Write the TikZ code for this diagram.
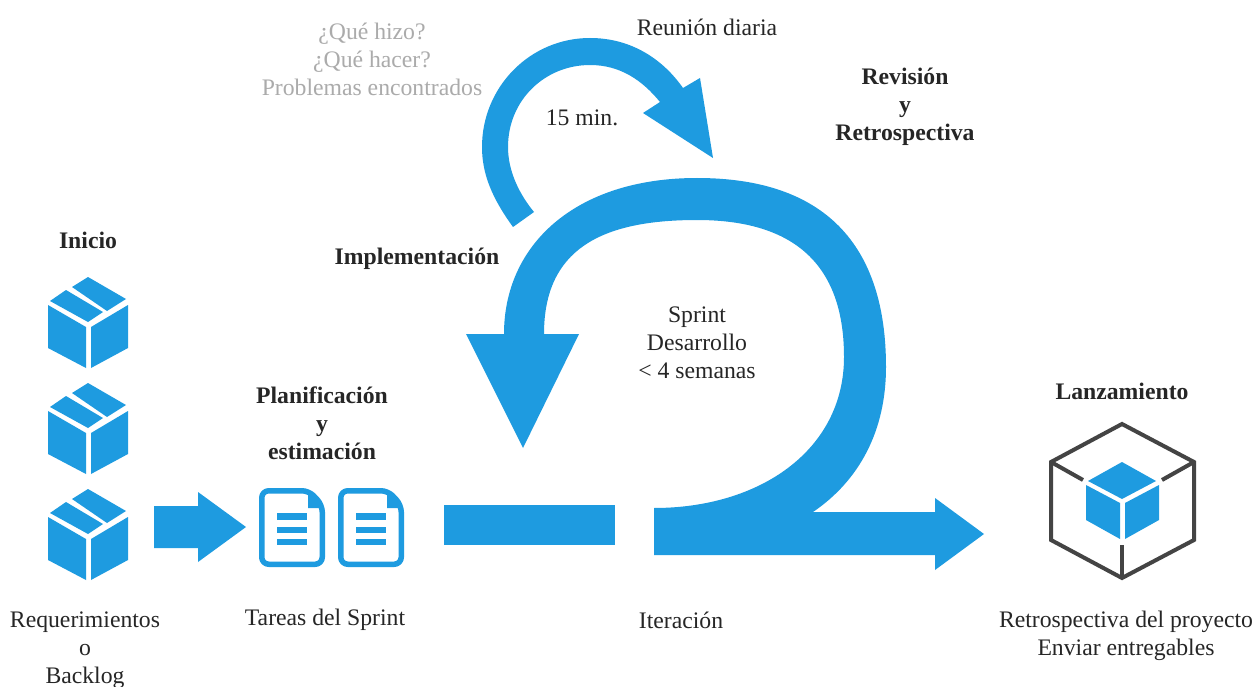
\documentclass[tikz,border=0pt]{standalone}
\usepackage{fontspec}
\setmainfont{Liberation Serif}
\definecolor{sb}{HTML}{1E9BE0}
\definecolor{dk}{HTML}{444444}
\definecolor{gr}{HTML}{ABABAB}
\tikzset{
  txt/.style={inner sep=0pt,align=center,text=black!85,font=\fontsize{23.7}{28}\selectfont},
  btxt/.style={txt,font=\fontsize{23.7}{28}\selectfont\bfseries},
  gtxt/.style={txt,text=gr},
  blue/.style={fill=sb,draw=none}
}
\newcommand{\boxicon}[2]{%
  \begin{scope}[shift={(#1,#2)}]
    \fill[sb] (-40,28) -- (-2,50) -- (-2,91) -- (-40,71) -- cycle;
    \fill[sb] (40,28) -- (3,50) -- (3,91) -- (40,71) -- cycle;
    \fill[sb] (0,0) -- (38,22) -- (19,34) -- (-16,10) -- cycle;
    \fill[sb] (-22,13) -- (15,35) -- (0,45) -- (-38,24) -- cycle;
  \end{scope}}
\newcommand{\docicon}[2]{%
  \begin{scope}[shift={(#1,#2)}]
    \draw[sb,line width=5.5pt,rounded corners=7pt,line join=round]
      (2.75,40) -- (2.75,2.75) -- (50,2.75) -- (63.25,17) -- (63.25,76.25) -- (2.75,76.25) -- cycle;
    \fill[sb] (49,2.75) -- (63.25,18) -- (63.25,20) -- (49,20) -- cycle;
    \fill[sb] (18,25) rectangle (48,32);
    \fill[sb] (18,39) rectangle (48,45);
    \fill[sb] (18,51) rectangle (48,57);
  \end{scope}}
\begin{document}
\begin{tikzpicture}[x=1pt,y=-1pt]
\useasboundingbox (0,0) rectangle (1258,687);
\fill[white] (0,0) rectangle (1258,687);
% small loop
\fill[blue] (513,227) .. controls (492,198) and (482,174) .. (482,147)
  .. controls (482,87) and (530,38) .. (590,38)
  .. controls (630,38) and (662,58) .. (683,88)
  -- (700,78) -- (713,158) -- (643,113) -- (660,102)
  .. controls (642,80) and (620,65) .. (590,65)
  .. controls (545,65) and (508,100) .. (508,147)
  .. controls (508,172) and (520,195) .. (534,212) -- cycle;
% big loop
\fill[blue] (504,334) .. controls (504,245) and (575,178) .. (697,178)
  .. controls (825,178) and (886,245) .. (886,367)
  .. controls (886,430) and (860,480) .. (813,512)
  -- (935,512) -- (935,498) -- (984,534) -- (935,570) -- (935,555) -- (654,555) -- (654,508)
  .. controls (760,508) and (844,450) .. (844,357)
  .. controls (844,270) and (800,220) .. (697,220)
  .. controls (600,220) and (544,250) .. (544,334)
  -- (579,334) -- (523,448) -- (466,334) -- cycle;
\fill[blue] (444,505) rectangle (615,545);
% small arrow
\fill[blue] (154,506) -- (198,506) -- (198,492) -- (246,527) -- (198,562) -- (198,548) -- (154,548) -- cycle;
\boxicon{88}{277}
\boxicon{88}{383}
\boxicon{88}{489}
\docicon{259}{488}
\docicon{338}{488}
% release cube
\draw[dk,line width=4pt,line join=miter]
  (1122,424) -- (1194,462) -- (1194,540) -- (1122,578) -- (1051,540) -- (1051,462) -- cycle;
\draw[dk,line width=4pt] (1051,462) -- (1083,480);
\draw[dk,line width=4pt] (1194,462) -- (1162,480);
\draw[dk,line width=4pt] (1122,578) -- (1122,545);
\fill[sb] (1122,462) -- (1156,481) -- (1122,499) -- (1088,481) -- cycle;
\fill[sb] (1086,485) -- (1120,503) -- (1120,539) -- (1086,520) -- cycle;
\fill[sb] (1159,485) -- (1125,503) -- (1125,539) -- (1159,520) -- cycle;
% texts
\node[gtxt] (q) at (372,59) {¿Qué hizo?\\¿Qué hacer?\\Problemas encontrados};
\node[txt] (reunion) at (707,27) {Reunión diaria};
\node[btxt] (rev) at (905,107) {Revisión\\y\\Retrospectiva};
\node[txt] (min) at (582,118) {15 min.};
\node[btxt] (impl) at (417,259) {Implementación};
\node[btxt] (ini) at (88,240) {Inicio};
\node[txt] (sprint) at (697,343) {Sprint\\Desarrollo\\< 4 semanas};
\node[btxt] (plan) at (322,423) {Planificación\\y\\estimación};
\node[btxt] (lanz) at (1122,391) {Lanzamiento};
\node[txt] (req) at (85,650) {Requerimientos\\o\\Backlog};
\node[txt] (tar) at (325,620) {Tareas del Sprint};
\node[txt] (ite) at (681,620) {Iteración};
\node[txt] (ret) at (1126,636) {Retrospectiva del proyecto\\Enviar entregables};
\end{tikzpicture}
\end{document}
